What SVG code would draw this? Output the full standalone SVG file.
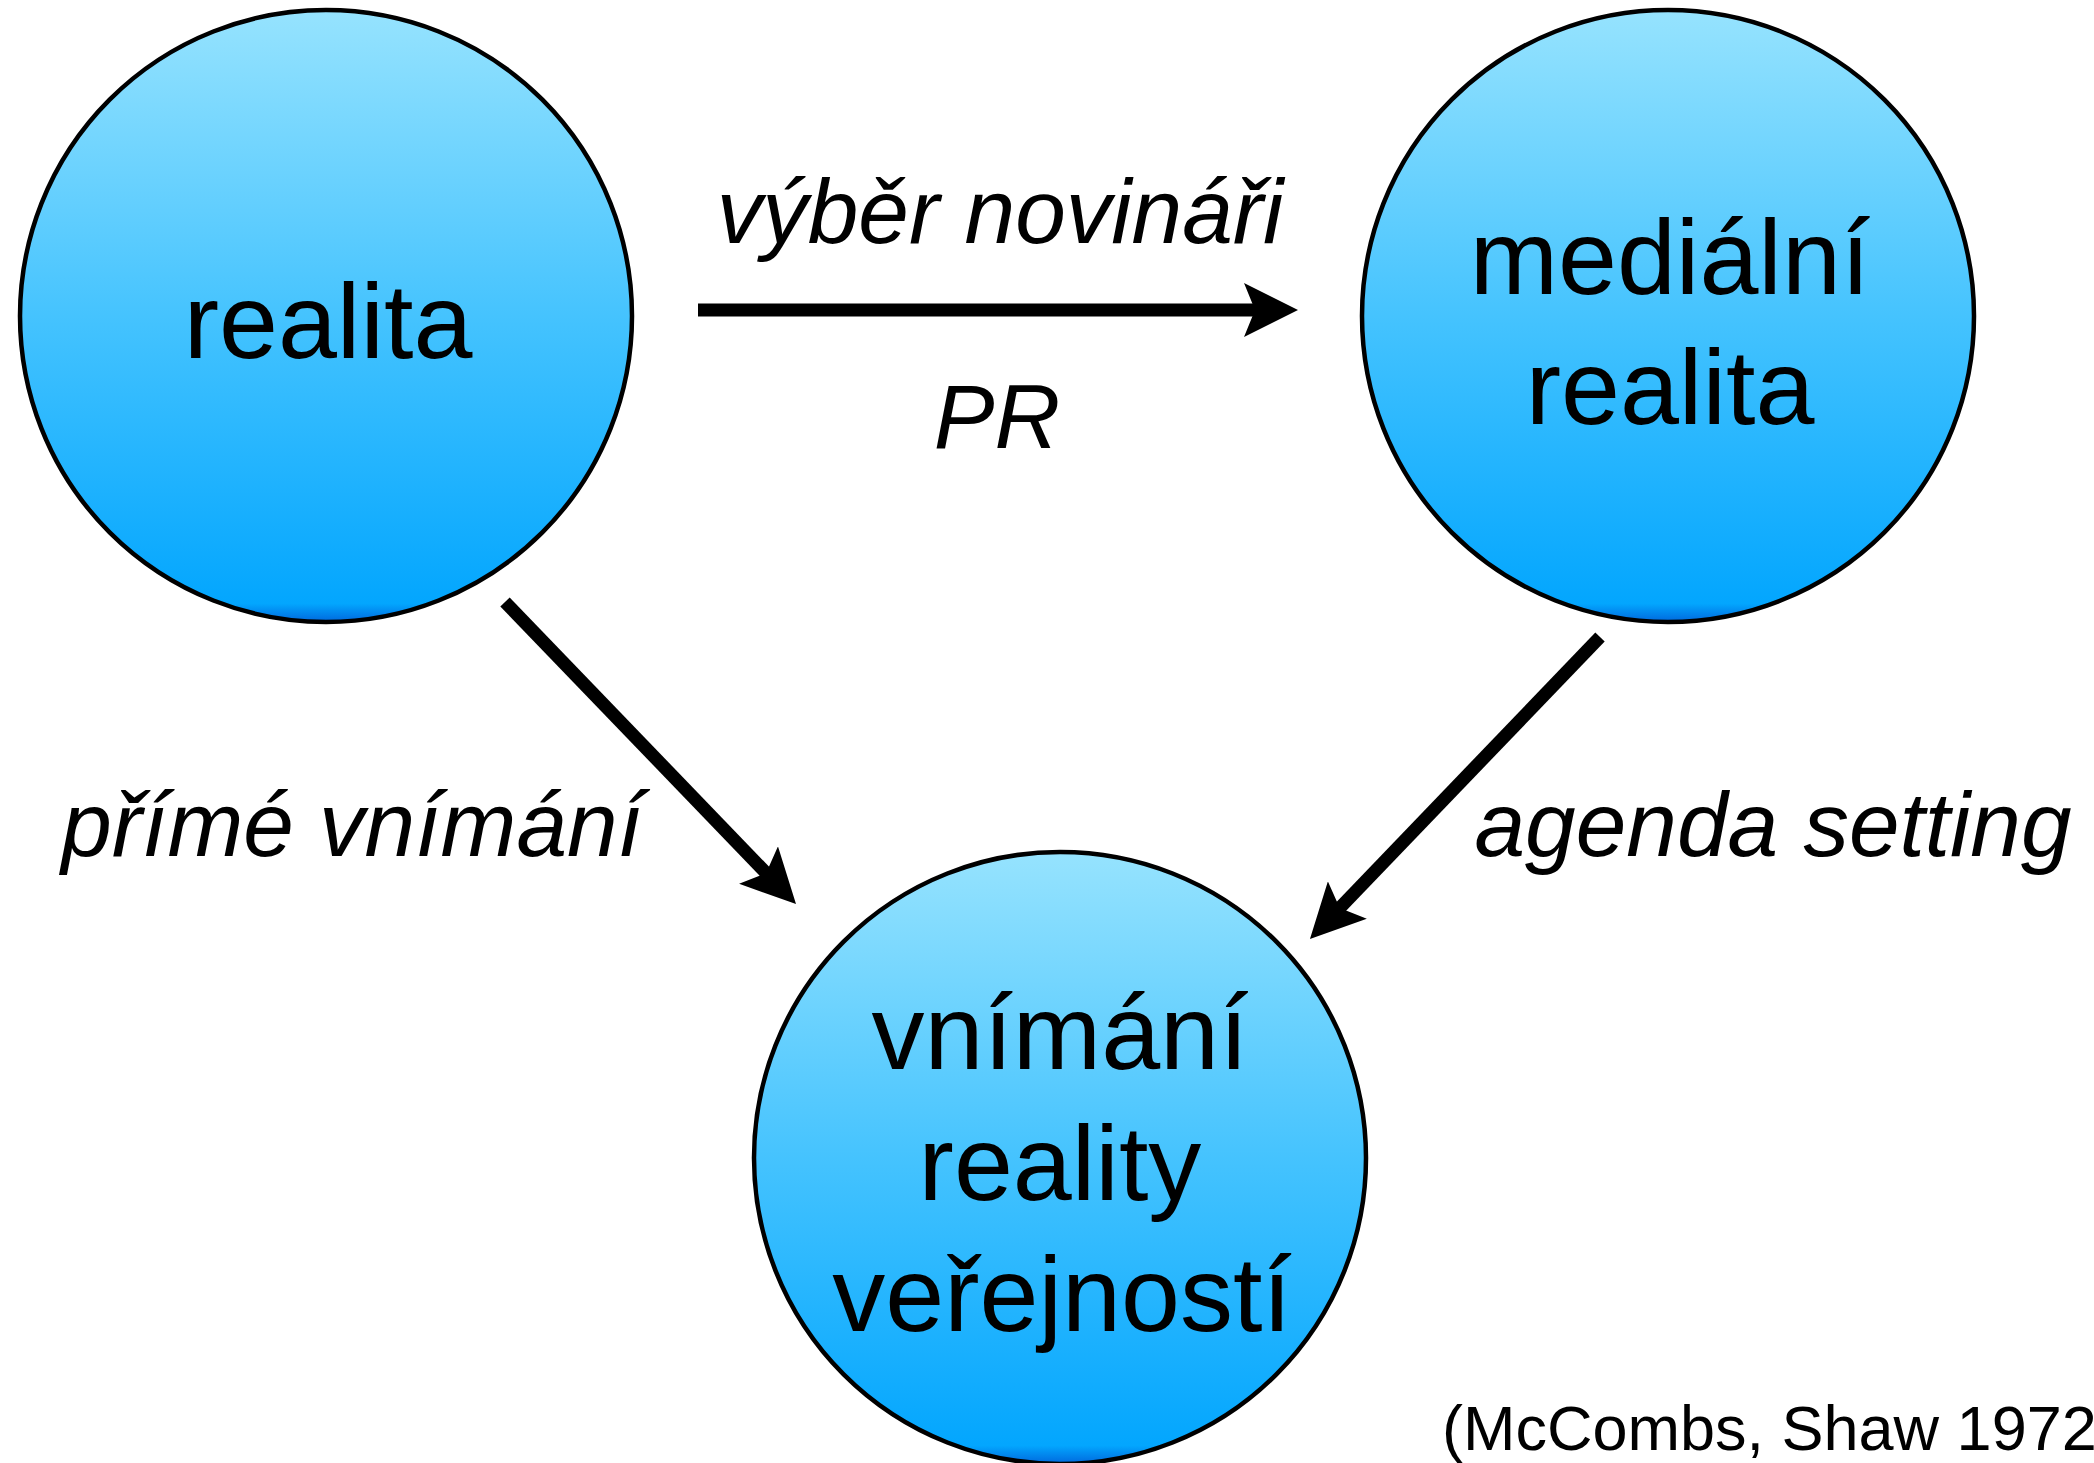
<svg xmlns="http://www.w3.org/2000/svg" width="2094" height="1463" viewBox="0 0 2094 1463">
  <style>
    .node { stroke: #000; stroke-width: 4.5; fill: url(#blue); }
    .main { font-family: "Liberation Sans", Arial, sans-serif; font-size: 106px; fill: #000; text-anchor: middle; }
    .lbl { font-family: "Liberation Sans", Arial, sans-serif; font-size: 91px; font-style: italic; fill: #000; text-anchor: middle; }
    .cite { font-family: "Liberation Sans", Arial, sans-serif; font-size: 63px; fill: #000; }
    .edge { stroke: #000; stroke-width: 13; fill: none; marker-end: url(#head); }
  </style>
  <defs>
    <linearGradient id="blue" x1="0" y1="0" x2="0" y2="1">
      <stop offset="0" stop-color="#96E3FE"/>
      <stop offset="0.5" stop-color="#45C3FE"/>
      <stop offset="0.97" stop-color="#03A6FE"/>
      <stop offset="1" stop-color="#0068DD"/>
    </linearGradient>
    <marker id="head" markerUnits="userSpaceOnUse" viewBox="0 0 54 54" markerWidth="54" markerHeight="54" refX="20" refY="27" orient="auto">
      <path d="M0,0 L54,27 L0,54 L11,27 Z" fill="#000"/>
    </marker>
  </defs>

  <g id="connectors">
    <line class="edge" x1="698" y1="310" x2="1264" y2="310"/>
    <line class="edge" x1="505" y1="602" x2="772.4" y2="879.5"/>
    <line class="edge" x1="1600" y1="637" x2="1333.5" y2="914.5"/>
  </g>

  <g id="realita">
    <circle class="node" cx="326" cy="316" r="306"/>
    <text class="main" x="328" y="358">realita</text>
  </g>

  <g id="medialni-realita">
    <circle class="node" cx="1668" cy="316" r="306"/>
    <text class="main" x="1670" y="294">mediální</text>
    <text class="main" x="1670" y="424">realita</text>
  </g>

  <g id="vnimani-reality">
    <circle class="node" cx="1060" cy="1158" r="306"/>
    <text class="main" x="1060" y="1069">vnímání</text>
    <text class="main" x="1060" y="1200">reality</text>
    <text class="main" x="1062" y="1331">veřejností</text>
  </g>

  <g id="labels">
    <text class="lbl" x="1000" y="243">výběr novináři</text>
    <text class="lbl" x="997" y="448">PR</text>
    <text class="lbl" x="352" y="856">přímé vnímání</text>
    <text class="lbl" x="1773" y="856">agenda setting</text>
    <text class="cite" x="1442" y="1450">(McCombs, Shaw 1972</text>
  </g>
</svg>
